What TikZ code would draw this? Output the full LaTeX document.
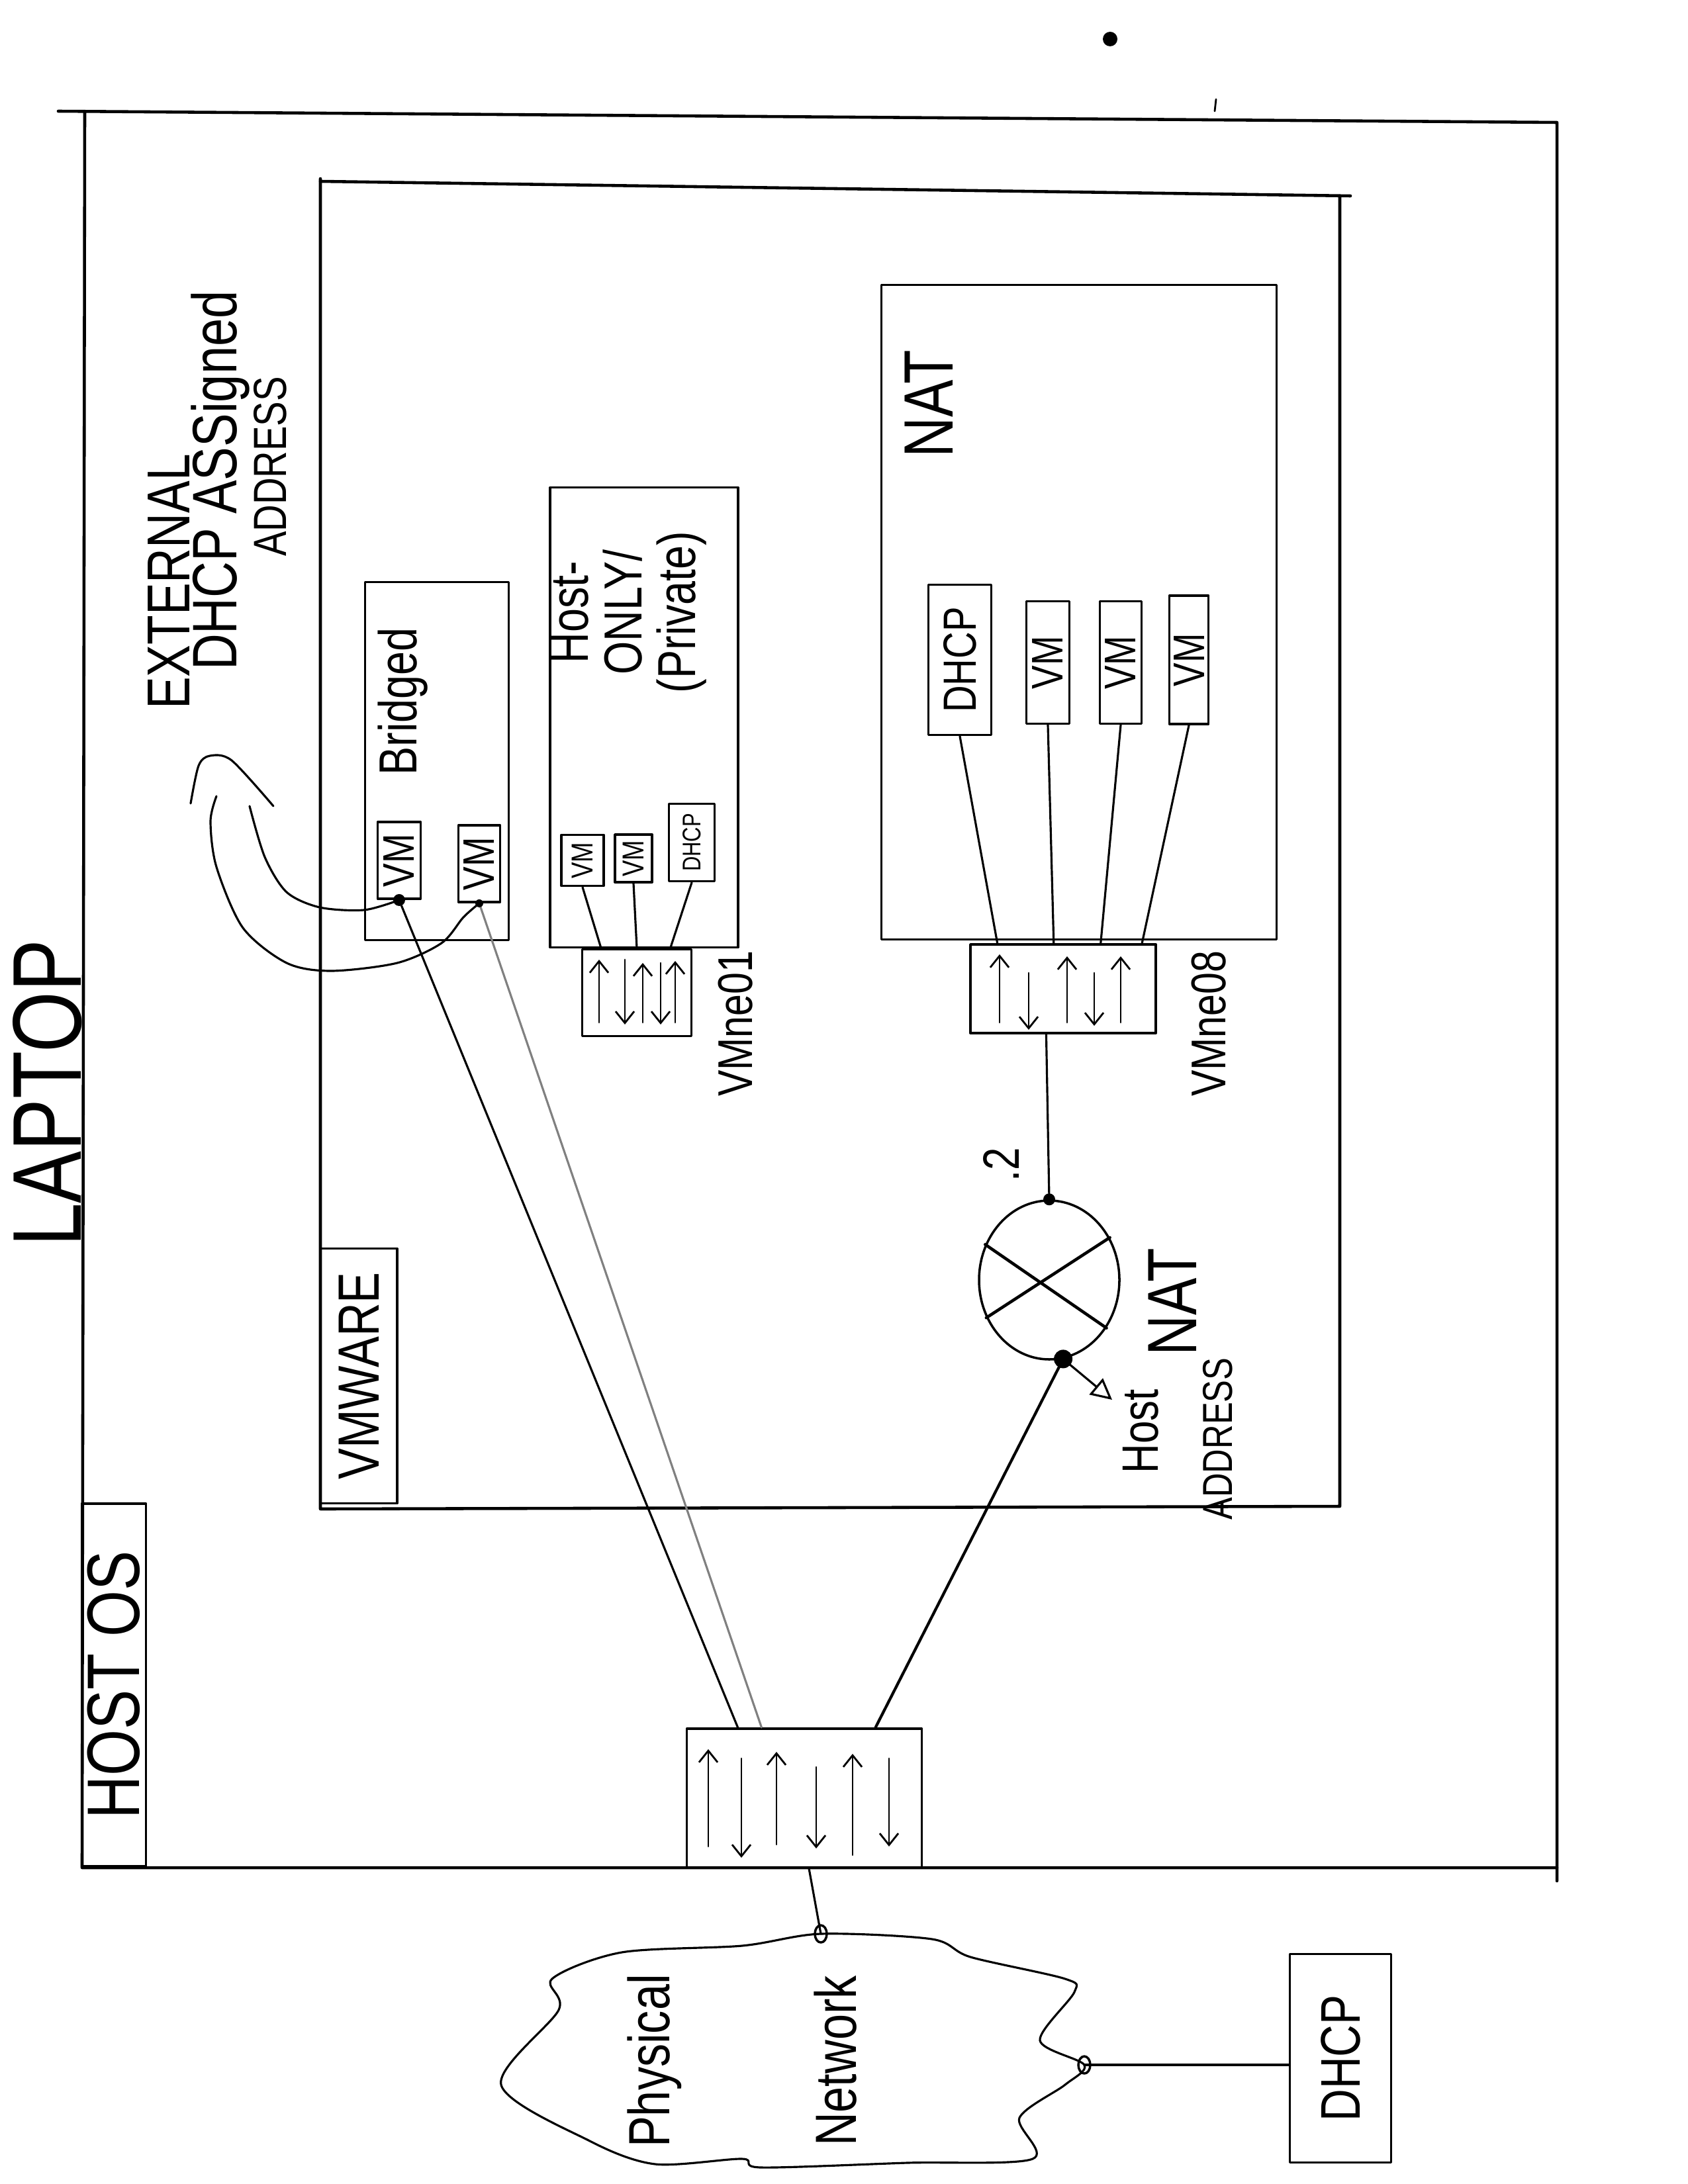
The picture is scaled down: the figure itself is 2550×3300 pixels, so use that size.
\documentclass[tikz,border=0pt]{standalone}
\usepackage{fontspec}
\usepackage{graphicx}
\newfontfamily\hand[FakeStretch=0.8]{Liberation Sans}
\usetikzlibrary{arrows.meta,shapes.geometric,calc}
\newcommand{\hf}[1]{\hand\fontsize{#1}{#1}\selectfont}
\tikzset{
  frame/.style={line width=1.3pt},
  box/.style={draw,line width=1.1pt,inner sep=0pt},
  wire/.style={line width=0.9pt},
  flow/.style={line width=0.8pt,-{Straight Barb[length=5pt,width=8pt]}},
  txt/.style={rotate=90,inner sep=0pt},
}
\begin{document}
\begin{tikzpicture}[x=0.1mm,y=-0.1mm,line cap=round,line join=round]
\useasboundingbox (0,0) rectangle (2550,3300);
% laptop and host os
\draw[frame] (88,168) -- (2352,185) -- (2352,2842);
\draw[frame] (128,168) -- (124,2822) -- (2352,2822);
\node[txt,font=\hf{42}] (laptop) at (72,1652) {LAPTOP};
\node[box,minimum width=9.7mm,minimum height=54.8mm] (hostos) at (172,2546) {\rotatebox{90}{\hf{32}HOST OS}};
% vmware
\draw[frame] (484,270) -- (484,2280) -- (2024,2276) -- (2024,296);
\draw[frame] (484,274) -- (2040,296);
\node[box,minimum width=11.6mm,minimum height=38.5mm] (vmware) at (542,2079) {\rotatebox{90}{\hf{25}VMWARE}};
% bridged
\node[box,minimum width=21.7mm,minimum height=54.1mm] (bridged) at (660,1150) {};
\node[txt,font=\hf{23}] (bridgedlbl) at (609,1060) {Bridged};
\node[box,minimum width=6.5mm,minimum height=11.6mm] (bvm1) at (603,1300) {\rotatebox{90}{\hf{19}VM}};
\node[box,minimum width=6.3mm,minimum height=11.6mm] (bvm2) at (724,1305) {\rotatebox{90}{\hf{19}VM}};
% host-only
\node[box,minimum width=28.4mm,minimum height=69.5mm] (hostonly) at (973,1084) {};
\node[txt,font=\hf{23},align=center] (hostonlylbl) at (950,925) {Host-\\ONLY/\\(Private)};
\node[box,minimum width=6.4mm,minimum height=7.7mm] (hvm1) at (880,1300) {\rotatebox{90}{\hf{13}VM}};
\node[box,minimum width=5.6mm,minimum height=7.2mm] (hvm2) at (957,1297) {\rotatebox{90}{\hf{13}VM}};
\node[box,minimum width=6.9mm,minimum height=11.7mm] (hdhcp) at (1045,1273) {\rotatebox{90}{\hf{11}DHCP}};
\node[box,minimum width=16.5mm,minimum height=13.1mm] (vmnet1) at (962,1500) {};
\node[txt,font=\hf{21}] (vmnet1lbl) at (1111,1547) {VMne01};
% nat
\node[box,minimum width=59.7mm,minimum height=98.9mm] (nat) at (1630,925) {};
\node[txt,font=\hf{30}] (natlbl) at (1403,610) {NAT};
\node[box,minimum width=9.5mm,minimum height=22.7mm] (ndhcp) at (1450,997) {\rotatebox{90}{\hf{20}DHCP}};
\node[box,minimum width=6.5mm,minimum height=18.5mm] (nvm2) at (1583,1001) {\rotatebox{90}{\hf{19}VM}};
\node[box,minimum width=6.3mm,minimum height=18.5mm] (nvm3) at (1693,1001) {\rotatebox{90}{\hf{19}VM}};
\node[box,minimum width=5.9mm,minimum height=19.4mm] (nvm4) at (1796,997) {\rotatebox{90}{\hf{19}VM}};
\node[box,minimum width=28mm,minimum height=13.4mm] (vmnet8) at (1606,1494) {};
\node[txt,font=\hf{21}] (vmnet8lbl) at (1826,1547) {VMne08};
% nat router
\node[draw,ellipse,line width=1pt,minimum width=21.2mm,minimum height=24mm,inner sep=0pt] (natr) at (1585,1934) {};
\draw[line width=1.3pt] (natr.151) -- (natr.-40) (natr.35) -- (natr.-149);
\node[txt,font=\hf{22}] (dot2) at (1512,1760) {.2};
\node[txt,font=\hf{30}] (natrlbl) at (1771,1967) {NAT};
\node[txt,font=\hf{22}] (hostlbl) at (1723,2163) {Host};
\node[txt,font=\hf{18}] (addrlbl) at (1840,2174) {ADDRESS};
\coordinate (haddr) at (1680,2115);
% main switch
\node[box,minimum width=35.5mm,minimum height=21mm] (msw) at (1215,2717) {};
% cloud and dhcp
\coordinate (ctop) at (1240,2922);
\coordinate (cright) at (1638,3120);
\draw[line width=0.9pt] plot[smooth cycle] coordinates {(891,3235) (757,3150) (844,3037) (834,2990) (939,2950) (1121,2940) (ctop) (1408,2930) (1466,2957) (1609,2990) (1623,3010) (1571,3083) (cright) (1609,3150) (1540,3200) (1560,3262) (1370,3268) (1150,3275) (1121,3262) (990,3270)};
\node[txt,font=\hf{25}] (physlbl) at (989,3114) {Physical};
\node[txt,font=\hf{25}] (netlbl) at (1262,3114) {Network};
\node[box,minimum width=15.3mm,minimum height=31.5mm] (dhcp) at (2025,3110) {\rotatebox{90}{\hf{24}DHCP}};
% external dhcp note
\node[txt,font=\hf{26}] (extlbl) at (255,879) {EXTERNAL};
\node[txt,font=\hf{27}] (assignlbl) at (333,726) {DHCP ASSigned};
\node[txt,font=\hf{20}] (addresslbl) at (408,705) {ADDRESS};
% connectors
\draw[wire] (hvm1.south) -- ($(vmnet1.north west)!0.18!(vmnet1.north east)$);
\draw[wire] (hvm2.south) -- ($(vmnet1.north west)!0.5!(vmnet1.north east)$);
\draw[wire] (hdhcp.south) -- ($(vmnet1.north west)!0.8!(vmnet1.north east)$);
\draw[wire] (ndhcp.south) -- ($(vmnet8.north west)!0.15!(vmnet8.north east)$);
\draw[wire] (nvm2.south) -- ($(vmnet8.north west)!0.45!(vmnet8.north east)$);
\draw[wire] (nvm3.south) -- ($(vmnet8.north west)!0.7!(vmnet8.north east)$);
\draw[wire] (nvm4.south) -- ($(vmnet8.north west)!0.92!(vmnet8.north east)$);
\draw[wire] ($(vmnet8.south west)!0.41!(vmnet8.south east)$) -- (natr.north);
\draw[wire,line width=1.2pt] (natr.-80) -- ($(msw.north west)!0.8!(msw.north east)$);
\draw[wire,-{Triangle[open,length=9pt,width=9pt]}] (natr.-80) -- (haddr);
\draw[wire] (bvm1.south) -- ($(msw.north west)!0.22!(msw.north east)$);
\draw[wire,gray] (bvm2.south) -- ($(msw.north west)!0.32!(msw.north east)$);
\draw[wire] ($(msw.south west)!0.52!(msw.south east)$) -- (ctop);
\draw[wire] (cright) -- (dhcp.west |- cright);
% dots
\fill (bvm1.south) circle[radius=0.9mm];
\fill (bvm2.south) circle[radius=0.6mm];
\fill (natr.north) circle[radius=0.9mm];
\fill (natr.-80) circle[radius=1.4mm];
\draw[line width=1pt] (ctop) circle[x radius=0.9mm,y radius=1.3mm];
\draw[line width=1pt] (cright) circle[x radius=0.9mm,y radius=1.3mm];
% hollow arrow to the note
\draw[wire] plot[smooth] coordinates {(bvm2.south) (700,1386) (667,1425) (600,1455) (500,1467) (433,1455) (367,1402) (327,1310) (318,1241) (327,1203)};
\draw[wire] plot[smooth] coordinates {(bvm1.south) (550,1375) (483,1371) (433,1348) (400,1295) (377,1218)};
\draw[wire] plot[smooth] coordinates {(288,1214) (300,1157) (317,1142) (350,1149) (413,1218)};
% switch arrows
\foreach \x/\a/\b in {905/1545/1450, 944/1450/1548, 971/1545/1455, 998/1455/1548, 1020/1545/1452}
  \draw[flow] (\x,\a) -- (\x,\b);
\foreach \x/\a/\b in {1510/1545/1442, 1554/1470/1556, 1612/1545/1445, 1653/1470/1550, 1693/1545/1445}
  \draw[flow] (\x,\a) -- (\x,\b);
\foreach \x/\a/\b in {1070/2790/2643, 1120/2657/2807, 1173/2787/2647, 1233/2670/2793, 1288/2803/2650, 1343/2657/2790}
  \draw[flow] (\x,\a) -- (\x,\b);
% stray marks
\fill (1677,59) circle[radius=1.1mm];
\draw[line width=0.8pt] (1837,150) -- (1835,168);
\end{tikzpicture}
\end{document}
